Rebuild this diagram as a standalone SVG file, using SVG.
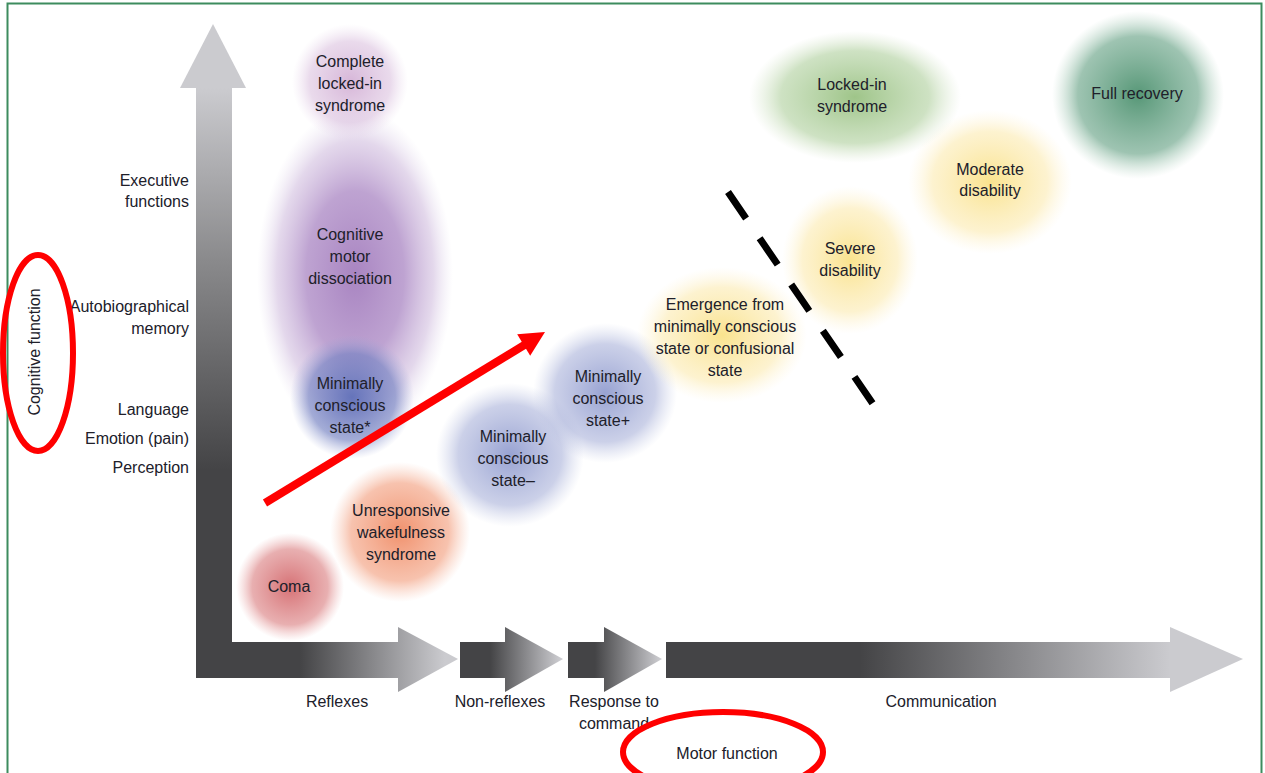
<svg xmlns="http://www.w3.org/2000/svg" width="1265" height="773" viewBox="0 0 1265 773">
<defs>
<style>
text{font-family:"Liberation Sans",Arial,sans-serif;font-size:16px;fill:#20202a;text-anchor:middle}
.r{text-anchor:end}
.blob{stroke:none}
</style>
<linearGradient id="gV" gradientUnits="userSpaceOnUse" x1="0" y1="88" x2="0" y2="470">
<stop offset="0" stop-color="#cbcbcf"/><stop offset="0.45" stop-color="#8a8a8c"/><stop offset="1" stop-color="#444446"/>
</linearGradient>
<linearGradient id="gH1" gradientUnits="userSpaceOnUse" x1="300" y1="0" x2="445" y2="0">
<stop offset="0" stop-color="#444446"/><stop offset="1" stop-color="#cbcbcf"/>
</linearGradient>
<linearGradient id="gH2" gradientUnits="userSpaceOnUse" x1="490" y1="0" x2="560" y2="0">
<stop offset="0" stop-color="#444446"/><stop offset="1" stop-color="#cbcbcf"/>
</linearGradient>
<linearGradient id="gH3" gradientUnits="userSpaceOnUse" x1="595" y1="0" x2="660" y2="0">
<stop offset="0" stop-color="#444446"/><stop offset="1" stop-color="#cbcbcf"/>
</linearGradient>
<linearGradient id="gH4" gradientUnits="userSpaceOnUse" x1="860" y1="0" x2="1170" y2="0">
<stop offset="0" stop-color="#444446"/><stop offset="1" stop-color="#cbcbcf"/>
</linearGradient>
<radialGradient id="rComa"><stop offset="0" stop-color="#d46a6e" stop-opacity="0.95"/><stop offset="0.7" stop-color="#d97a7c" stop-opacity="0.6"/><stop offset="1" stop-color="#e8a0a0" stop-opacity="0"/></radialGradient>
<radialGradient id="rUWS"><stop offset="0" stop-color="#f08c66" stop-opacity="0.95"/><stop offset="0.7" stop-color="#f29a78" stop-opacity="0.6"/><stop offset="1" stop-color="#f6b8a0" stop-opacity="0"/></radialGradient>
<radialGradient id="rMCS"><stop offset="0" stop-color="#8692ca" stop-opacity="0.85"/><stop offset="0.7" stop-color="#98a2d2" stop-opacity="0.5"/><stop offset="1" stop-color="#b8c0e0" stop-opacity="0"/></radialGradient>
<radialGradient id="rMCSs"><stop offset="0" stop-color="#5f6fb8" stop-opacity="0.95"/><stop offset="0.7" stop-color="#7482c2" stop-opacity="0.65"/><stop offset="1" stop-color="#a0a8d8" stop-opacity="0"/></radialGradient>
<radialGradient id="rCMD"><stop offset="0" stop-color="#a47ebe" stop-opacity="0.95"/><stop offset="0.5" stop-color="#ae8cc6" stop-opacity="0.8"/><stop offset="0.8" stop-color="#c2a8d4" stop-opacity="0.45"/><stop offset="1" stop-color="#d8cce6" stop-opacity="0"/></radialGradient>
<radialGradient id="rCLIS"><stop offset="0" stop-color="#d2aed4" stop-opacity="0.9"/><stop offset="0.7" stop-color="#d8bcdc" stop-opacity="0.55"/><stop offset="1" stop-color="#e6d4ea" stop-opacity="0"/></radialGradient>
<radialGradient id="rYel"><stop offset="0" stop-color="#f9de7a" stop-opacity="0.85"/><stop offset="0.7" stop-color="#fbe6a0" stop-opacity="0.5"/><stop offset="1" stop-color="#fdf0c8" stop-opacity="0"/></radialGradient>
<radialGradient id="rLIS"><stop offset="0" stop-color="#94be7c" stop-opacity="0.9"/><stop offset="0.7" stop-color="#a6ca92" stop-opacity="0.55"/><stop offset="1" stop-color="#c8dcb8" stop-opacity="0"/></radialGradient>
<radialGradient id="rFR"><stop offset="0" stop-color="#4e9270" stop-opacity="0.95"/><stop offset="0.7" stop-color="#6aa488" stop-opacity="0.65"/><stop offset="1" stop-color="#a8ccb8" stop-opacity="0"/></radialGradient>
</defs>
<rect x="0" y="0" width="1265" height="773" fill="#ffffff"/>
<path d="M7.5,780 L7.5,3.5 L1261.5,3.5 L1261.5,780" fill="none" stroke="#3d8c5e" stroke-width="2"/>

<g id="axes">
<rect x="196" y="86" width="36" height="592" fill="url(#gV)"/>
<polygon points="180,88 213,24 246,88" fill="#cbcbcf"/>
<rect x="196" y="642" width="36" height="36" fill="#444446"/>
<rect x="231" y="642" width="168" height="36" fill="url(#gH1)"/>
<polygon points="398,627 458,659 398,692" fill="url(#gH1)"/>
<rect x="460" y="642" width="46" height="36" fill="url(#gH2)"/>
<polygon points="505,627 563,659 505,692" fill="url(#gH2)"/>
<rect x="568" y="642" width="37" height="36" fill="url(#gH3)"/>
<polygon points="604,627 662,659 604,692" fill="url(#gH3)"/>
<rect x="666" y="642" width="505" height="36" fill="url(#gH4)"/>
<polygon points="1170,627 1243,659 1170,692" fill="url(#gH4)"/>
</g>

<g id="axis-labels">
<text class="r" x="189" y="186">Executive</text>
<text class="r" x="189" y="207">functions</text>
<text class="r" x="189" y="312">Autobiographical</text>
<text class="r" x="189" y="334">memory</text>
<text class="r" x="189" y="415">Language</text>
<text class="r" x="189" y="444">Emotion (pain)</text>
<text class="r" x="189" y="473">Perception</text>
<text transform="translate(40,352) rotate(-90)">Cognitive function</text>
<text x="337" y="707">Reflexes</text>
<text x="500" y="707">Non-reflexes</text>
<text x="614" y="707">Response to</text>
<text x="614" y="729">command</text>
<text x="941" y="707">Communication</text>
<text x="727" y="759">Motor function</text>
</g>

<g id="node-cmd">
<ellipse class="blob" cx="355" cy="275" rx="98" ry="168" fill="url(#rCMD)"/>
<text x="350" y="240">Cognitive</text>
<text x="350" y="262">motor</text>
<text x="350" y="284">dissociation</text>
</g>
<g id="node-clis">
<circle class="blob" cx="350" cy="82" r="58" fill="url(#rCLIS)"/>
<text x="350" y="67">Complete</text>
<text x="350" y="89">locked-in</text>
<text x="350" y="111">syndrome</text>
</g>
<g id="node-mcs-star">
<ellipse class="blob" cx="352" cy="397" rx="62" ry="62" fill="url(#rMCSs)"/>
<text x="350" y="389">Minimally</text>
<text x="350" y="411">conscious</text>
<text x="350" y="433">state*</text>
</g>
<g id="node-coma">
<circle class="blob" cx="290" cy="587" r="54" fill="url(#rComa)"/>
<text x="289" y="592">Coma</text>
</g>
<g id="node-uws">
<ellipse class="blob" cx="400" cy="532" rx="70" ry="70" fill="url(#rUWS)"/>
<text x="401" y="516">Unresponsive</text>
<text x="401" y="538">wakefulness</text>
<text x="401" y="560">syndrome</text>
</g>
<g id="node-mcs-minus">
<ellipse class="blob" cx="510" cy="455" rx="74" ry="72" fill="url(#rMCS)"/>
<text x="513" y="442">Minimally</text>
<text x="513" y="464">conscious</text>
<text x="513" y="486">state–</text>
</g>
<g id="node-mcs-plus">
<ellipse class="blob" cx="605" cy="393" rx="72" ry="70" fill="url(#rMCS)"/>
<text x="608" y="382">Minimally</text>
<text x="608" y="404">conscious</text>
<text x="608" y="426">state+</text>
</g>
<g id="node-emcs">
<ellipse class="blob" cx="722" cy="335" rx="85" ry="68" fill="url(#rYel)"/>
<text x="725" y="310">Emergence from</text>
<text x="725" y="332">minimally conscious</text>
<text x="725" y="354">state or confusional</text>
<text x="725" y="376">state</text>
</g>
<g id="node-severe">
<ellipse class="blob" cx="850" cy="260" rx="68" ry="74" fill="url(#rYel)"/>
<text x="850" y="254">Severe</text>
<text x="850" y="276">disability</text>
</g>
<g id="node-moderate">
<ellipse class="blob" cx="990" cy="182" rx="82" ry="72" fill="url(#rYel)"/>
<text x="990" y="175">Moderate</text>
<text x="990" y="196">disability</text>
</g>
<g id="node-lis">
<ellipse class="blob" cx="855" cy="97" rx="106" ry="66" fill="url(#rLIS)"/>
<text x="852" y="90">Locked-in</text>
<text x="852" y="112">syndrome</text>
</g>
<g id="node-full">
<ellipse class="blob" cx="1138" cy="95" rx="86" ry="84" fill="url(#rFR)"/>
<text x="1137" y="99">Full recovery</text>
</g>

<g id="connectors">
<line x1="265" y1="503" x2="526" y2="344" stroke="#ff0000" stroke-width="8"/>
<polygon points="545,332 530.2,355.7 517.2,334.3" fill="#ff0000"/>
<line x1="728" y1="192" x2="873" y2="404" stroke="#000000" stroke-width="7" stroke-dasharray="32 24"/>
<ellipse cx="38" cy="353" rx="35" ry="98" fill="none" stroke="#ff0000" stroke-width="6"/>
<ellipse cx="723" cy="752" rx="100" ry="40" fill="none" stroke="#ff0000" stroke-width="6"/>
</g>
</svg>
